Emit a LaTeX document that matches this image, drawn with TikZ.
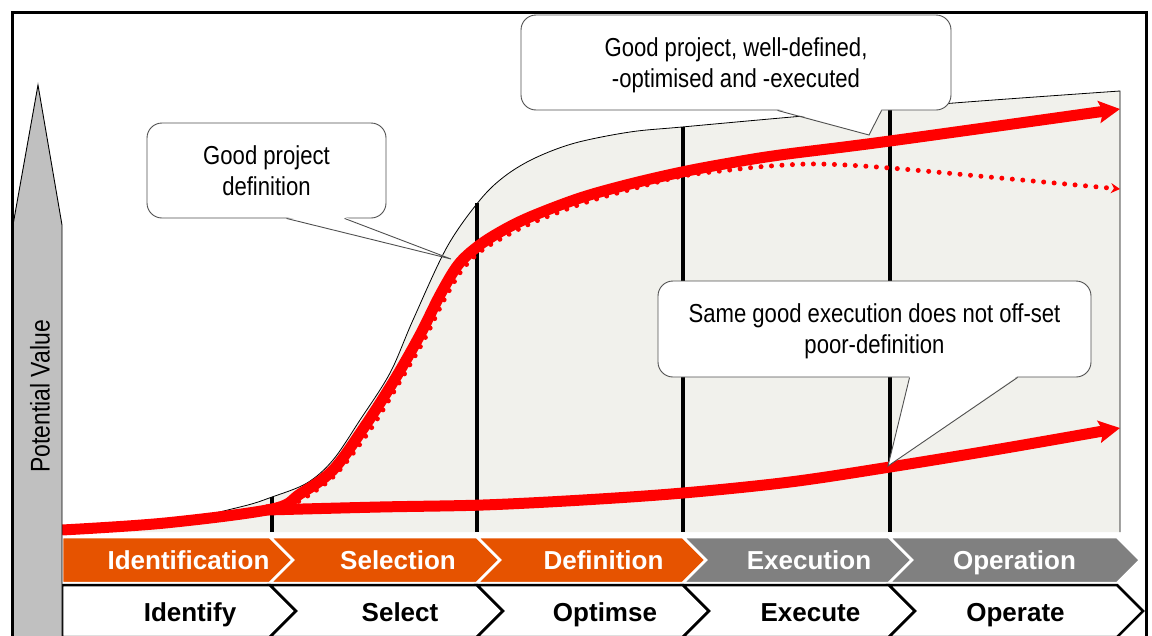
\documentclass[tikz,border=0pt]{standalone}
\usepackage{fontspec}
\setmainfont{Liberation Sans}
\newfontfamily\narrowfont[FakeStretch=0.85]{Liberation Sans}
\usepackage{tikz}
\usetikzlibrary{arrows.meta,calc}
\definecolor{phaseorange}{HTML}{E65300}
\definecolor{phasegrey}{HTML}{808080}
\definecolor{envfill}{HTML}{F1F1EC}
\definecolor{axisgrey}{HTML}{C0C0C0}
\definecolor{valred}{HTML}{FF0000}
\definecolor{boxline}{HTML}{505050}

\begin{document}
\begin{tikzpicture}[x=1pt,y=-1pt,>={Stealth[length=21pt,width=22pt,inset=4pt]},
  bubble/.style={draw=boxline,line width=0.9pt,fill=white,rounded corners=15pt,
    align=center,inner sep=0pt,text depth=0pt,font=\narrowfont\fontsize{26}{31}\selectfont},
  phase/.style={anchor=base,font=\bfseries\fontsize{26}{31}\selectfont}]
\useasboundingbox (0,0) rectangle (1152,635);
\clip (0,0) rectangle (1152,635);

% envelope of attainable value
\fill[envfill] plot[smooth,tension=0.55] coordinates {(62,531) (160,524) (240,507) (272,497) (307,483) (333,460) (360,420) (390,373) (413,320) (447,247) (480,200) (505,176) (535,158) (575,143) (630,132) (682,127) (792,117) (954,103) (1120,91)} -- (1120,532) -- (62,532) -- cycle;
\draw[line width=0.8pt] plot[smooth,tension=0.55] coordinates {(62,531) (160,524) (240,507) (272,497) (307,483) (333,460) (360,420) (390,373) (413,320) (447,247) (480,200) (505,176) (535,158) (575,143) (630,132) (682,127) (792,117) (954,103) (1120,91)} -- (1120,532);
\foreach \x/\y in {272/497,477/203,683/127,890/109}
  \draw[line width=3.5pt] (\x,\y) -- (\x,532);

% value curves
\draw[valred,line width=5pt,line cap=round,dash pattern=on 0pt off 10.5pt,-{Stealth[length=9pt,width=10pt]}]
  plot[smooth,tension=0.55] coordinates {(280,511) (306,497) (336,474) (370,430) (399,383) (424,340) (444,300) (462,270) (481,251) (504,237) (534,222) (584,203) (632,189) (683,176) (730,170) (770,166) (820,164) (890,168) (1000,178) (1120,189)};
\draw[valred,line width=11pt,->] plot[smooth,tension=0.55] coordinates {(62,530) (165,523) (272,509) (300,494) (333,470) (365,426) (395,379) (420,335) (440,295) (458,265) (477,247) (500,232) (530,217) (580,198) (630,184) (682,172) (730,163) (780,155) (890,141) (1120,109)};
\draw[valred,line width=11pt,->] plot[smooth,tension=0.55] coordinates {(266,510) (380,507) (483,505) (583,500) (683,493) (790,482) (890,467) (1000,449) (1120,428)};

% callouts
\node[bubble,minimum width=430pt,minimum height=95pt] (goodall) at (736,62.5) {Good project, well-defined,\\-optimised and -executed};
\coordinate (goodalltip) at (869,135);
\fill[white] ($(goodall.south west)+(257,-1.5)$) -- (goodalltip) -- ($(goodall.south west)+(361,-1.5)$) -- cycle;
\draw[boxline,line width=0.9pt] ($(goodall.south west)+(257,0)$) -- (goodalltip) -- ($(goodall.south west)+(361,0)$);

\node[bubble,minimum width=239pt,minimum height=95pt] (gooddef) at (266.5,170.5) {Good project\\definition};
\coordinate (gooddeftip) at (451,259);
\fill[white] ($(gooddef.south west)+(140,-1.5)$) -- (gooddeftip) -- ($(gooddef.south west)+(198,-1.5)$) -- cycle;
\draw[boxline,line width=0.9pt] ($(gooddef.south west)+(140,0)$) -- (gooddeftip) -- ($(gooddef.south west)+(198,0)$);

\node[bubble,minimum width=433pt,minimum height=96pt] (sameexec) at (874.5,329) {Same good execution does not off-set\\poor-definition};
\coordinate (sameexectip) at (888,466);
\fill[white] ($(sameexec.south west)+(252,-1.5)$) -- (sameexectip) -- ($(sameexec.south west)+(360,-1.5)$) -- cycle;
\draw[boxline,line width=0.9pt] ($(sameexec.south west)+(252,0)$) -- (sameexectip) -- ($(sameexec.south west)+(360,0)$);

% phase chevrons
\foreach \a/\n/\b/\col/\tx/\lbl [count=\i] in {62/0/270/phaseorange/188.5/Identification,270/23/477/phaseorange/398/Selection,477/23/683/phaseorange/603.5/Definition,683/23/889/phasegrey/809/Execution,889/23/1117/phasegrey/1014.5/Operation}{
  \fill[\col,draw=white,line width=2.5pt] (\a,537) -- (\b,537) -- (\b+23,560) -- (\b,583) -- (\a,583) -- (\a+\n,560) -- cycle;
  \node[phase,text=white] (phase\i) at (\tx,569.5) {\lbl};
}
\foreach \a/\n/\b/\tx/\lbl [count=\i] in {62/0/270/190/Identify,270/26/477/400/Select,477/26/683/605/Optimse,683/26/889/810.5/Execute,889/26/1117/1015.5/Operate}{
  \draw[fill=white,line width=2.5pt] (\a,585) -- (\b,585) -- (\b+26,611) -- (\b,637) -- (\a,637) -- (\a+\n,611) -- cycle;
  \node[phase] (task\i) at (\tx,621.5) {\lbl};
}

% value axis
\draw[fill=axisgrey,line width=0.9pt] (13,660) -- (13,225) -- (38,85) -- (62,225) -- (62,660) -- cycle;
\node[rotate=90,font=\narrowfont\fontsize{27}{32}\selectfont] (axislabel) at (40,396.5) {Potential Value};

\draw[line width=3pt] (12.5,12.5) rectangle (1146.5,660);
\end{tikzpicture}
\end{document}
